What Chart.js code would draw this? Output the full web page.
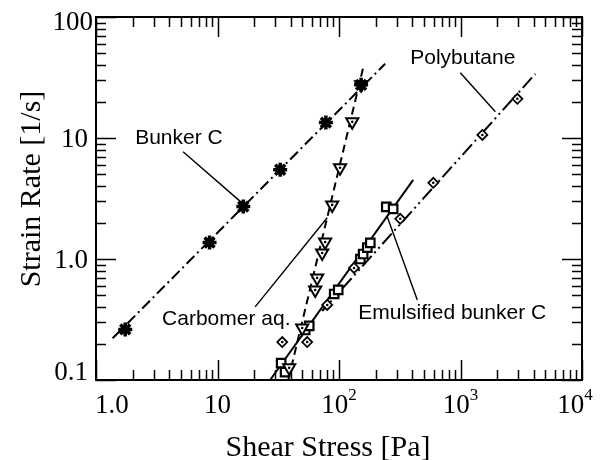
<!DOCTYPE html>
<html>
<head>
<meta charset="utf-8">
<script src="https://cdn.jsdelivr.net/npm/chart.js@4.4.1/dist/chart.umd.min.js"></script>
<style>
  html, body { margin: 0; padding: 0; background: #fff; }
  #wrap { width: 606px; height: 460px; }
</style>
</head>
<body>
<div id="wrap"><canvas id="flow" width="606" height="460"></canvas></div>
<script>
"use strict";

// shear stress [Pa] vs strain rate [1/s]
const bunkerStress = [1.74, 8.6, 16.3, 32.8, 78, 152];
const bunkerRate = [0.262, 1.37, 2.71, 5.46, 13.4, 27.5];
const bunkerFitStress = [1.37, 240];
const bunkerFitRate = [0.221, 41.1];

const carbomerStress = [38.9, 49.8, 63.7, 66.1, 72.7, 76.9, 87.9, 102, 128.5, 152];
const carbomerRate = [0.126, 0.269, 0.555, 0.698, 1.12, 1.38, 2.8, 5.67, 13.6, 27.5];
const carbomerFitStress = [38.2, 159];
const carbomerFitRate = [0.1, 39];

const emulsStress = [33.4, 36.0, 52.7, 56.9, 91.3, 98.5, 150, 158, 171, 181, 245, 279];
const emulsRate = [0.138, 0.116, 0.259, 0.28, 0.514, 0.555, 1.0, 1.1, 1.24, 1.36, 2.7, 2.6];
const emulsFitStress = [27.1, 408];
const emulsFitRate = [0.1, 4.51];

const polyStress = [34.1, 54.7, 80.0, 133, 319, 597, 1513, 2938];
const polyRate = [0.206, 0.206, 0.417, 0.843, 2.15, 4.26, 10.6, 21.1];
const polyFitStress = [72.7, 4131];
const polyFitRate = [0.372, 33.9];

const xTickValues = [1, 10, 100, 1000, 10000];
const xTickBase = ["1.0", "10", "10", "10", "10"];
const xTickExp = ["", "", "2", "3", "4"];
const yTickValues = [0.1, 1, 10, 100];
const yTickLabels = ["0.1", "1.0", "10", "100"];

const seriesNames = ["Bunker C", "Carbomer aq.", "Emulsified bunker C", "Polybutane"];

// callouts: text anchor (left/baseline) and leader line, in data units
const callouts = [
  { text: seriesNames[0], at: [2.1, 8.96], from: [5.21, 7.69], to: [15.9, 2.91] },
  { text: seriesNames[3], at: [386, 41.1], from: [996, 34.6], to: [1936, 16.5] },
  { text: seriesNames[1], at: [3.5, 0.285], from: [20.4, 0.402], to: [80, 2.19] },
  { text: seriesNames[2], at: [144, 0.319], from: [441, 0.459], to: [249.6, 2.23] },
];

function pairs(xs, ys) {
  return xs.map(function (x, i) { return { x: x, y: ys[i] }; });
}

const INK = "#000";

function fitLine(xs, ys, dash) {
  return {
    data: pairs(xs, ys),
    showLine: true,
    borderColor: INK,
    borderWidth: 2,
    borderDash: dash,
    pointRadius: 0,
    fill: false,
  };
}

function markers(xs, ys, style, r, rot, bw, fillCol) {
  return {
    data: pairs(xs, ys),
    showLine: false,
    pointStyle: style,
    pointRadius: r,
    pointRotation: rot,
    borderColor: INK,
    backgroundColor: fillCol,
    pointBorderWidth: bw,
  };
}

// small centre dot used inside the open triangles and diamonds
function centreDots(xs, ys, dy) {
  return {
    data: pairs(xs, ys),
    showLine: false,
    pointStyle: "circle",
    pointRadius: 1.3,
    borderWidth: 0,
    backgroundColor: INK,
  };
}

// inward ticks on all four sides, frame, tick labels and axis titles
const frame = {
  id: "frame",
  afterDraw(chart) {
    const ctx = chart.ctx;
    const a = chart.chartArea;
    const sx = chart.scales.x, sy = chart.scales.y;
    const major = 20, minor = 10;
    ctx.save();
    ctx.strokeStyle = INK;
    ctx.lineWidth = 1.5;
    ctx.beginPath();
    for (let d = 1; d < 10000; d *= 10) {
      for (let m = 1; m <= 10; m++) {
        const px = Math.round(sx.getPixelForValue(d * m)) + 0.5;
        const len = (m === 1 || m === 10) ? major : minor;
        ctx.moveTo(px, a.bottom); ctx.lineTo(px, a.bottom - len);
        ctx.moveTo(px, a.top); ctx.lineTo(px, a.top + len);
      }
    }
    for (let d = 0.1; d < 99; d *= 10) {
      for (let m = 1; m <= 10; m++) {
        const py = Math.round(sy.getPixelForValue(d * m)) + 0.5;
        const len = (m === 1 || m === 10) ? major : minor;
        ctx.moveTo(a.left, py); ctx.lineTo(a.left + len, py);
        ctx.moveTo(a.right, py); ctx.lineTo(a.right - len, py);
      }
    }
    ctx.stroke();
    ctx.lineWidth = 2;
    ctx.strokeRect(a.left, a.top, a.right - a.left, a.bottom - a.top);

    ctx.fillStyle = INK;
    ctx.textBaseline = "alphabetic";
    const tickFont = "27px 'Liberation Serif', 'Times New Roman', serif";
    const supFont = "17px 'Liberation Serif', 'Times New Roman', serif";
    xTickValues.forEach(function (v, i) {
      ctx.font = tickFont;
      const wb = ctx.measureText(xTickBase[i]).width;
      ctx.font = supFont;
      const we = xTickExp[i] ? ctx.measureText(xTickExp[i]).width : 0;
      let left = sx.getPixelForValue(v) - (wb + we) / 2;
      if (i === 0) left = a.left - 1;
      if (i === xTickValues.length - 1) left -= 7;
      ctx.font = tickFont;
      ctx.textAlign = "left";
      ctx.fillText(xTickBase[i], left, a.bottom + 33);
      if (xTickExp[i]) {
        ctx.font = supFont;
        ctx.fillText(xTickExp[i], left + wb, a.bottom + 20);
      }
    });
    ctx.font = tickFont;
    ctx.textAlign = "right";
    yTickValues.forEach(function (v, i) {
      let py = sy.getPixelForValue(v) + 9;
      let px = a.left - 8;
      if (i === 0) py = a.bottom;
      if (i === yTickValues.length - 1) { py += 4; px += 5; }
      ctx.fillText(yTickLabels[i], px, py);
    });

    ctx.font = "30px 'Liberation Serif', 'Times New Roman', serif";
    ctx.textAlign = "center";
    ctx.fillText("Shear Stress [Pa]", 328, 456);
    ctx.save();
    ctx.translate(40, 189);
    ctx.rotate(-Math.PI / 2);
    ctx.fillText("Strain Rate [1/s]", 0, 0);
    ctx.restore();
    ctx.restore();
  },
  afterDatasetsDraw(chart) {
    const ctx = chart.ctx;
    const sx = chart.scales.x, sy = chart.scales.y;
    ctx.save();
    ctx.strokeStyle = INK;
    ctx.fillStyle = INK;
    ctx.lineWidth = 1.4;
    ctx.font = "21px 'Liberation Sans', Arial, sans-serif";
    ctx.textAlign = "left";
    ctx.textBaseline = "alphabetic";
    for (const c of callouts) {
      ctx.beginPath();
      ctx.moveTo(sx.getPixelForValue(c.from[0]), sy.getPixelForValue(c.from[1]));
      ctx.lineTo(sx.getPixelForValue(c.to[0]), sy.getPixelForValue(c.to[1]));
      ctx.stroke();
      ctx.fillText(c.text, sx.getPixelForValue(c.at[0]), sy.getPixelForValue(c.at[1]));
    }
    ctx.restore();
  },
};

new Chart(document.getElementById("flow"), {
  type: "scatter",
  data: {
    datasets: [
      centreDots(carbomerStress, carbomerRate),
      centreDots(polyStress, polyRate),
      markers(bunkerStress, bunkerRate, "star", 7, 0, 3.5, INK),
      markers(carbomerStress, carbomerRate, "triangle", 7, 180, 2, "#fff"),
      markers(emulsStress, emulsRate, "rect", 6, 0, 2.2, "#fff"),
      markers(polyStress, polyRate, "rectRot", 5, 0, 1.8, "#fff"),
      fitLine(bunkerFitStress, bunkerFitRate, [11, 4, 2, 4]),
      fitLine(carbomerFitStress, carbomerFitRate, [8, 5]),
      fitLine(emulsFitStress, emulsFitRate, []),
      fitLine(polyFitStress, polyFitRate, [14, 4, 2, 4, 2, 4]),
    ],
  },
  options: {
    responsive: false,
    animation: false,
    layout: { padding: { left: 96, right: 24, top: 17, bottom: 80 } },
    plugins: { legend: { display: false }, tooltip: { enabled: false } },
    scales: {
      x: { type: "logarithmic", min: 1, max: 10000, display: false },
      y: { type: "logarithmic", min: 0.1, max: 100, display: false },
    },
  },
  plugins: [frame],
});
</script>
</body>
</html>
